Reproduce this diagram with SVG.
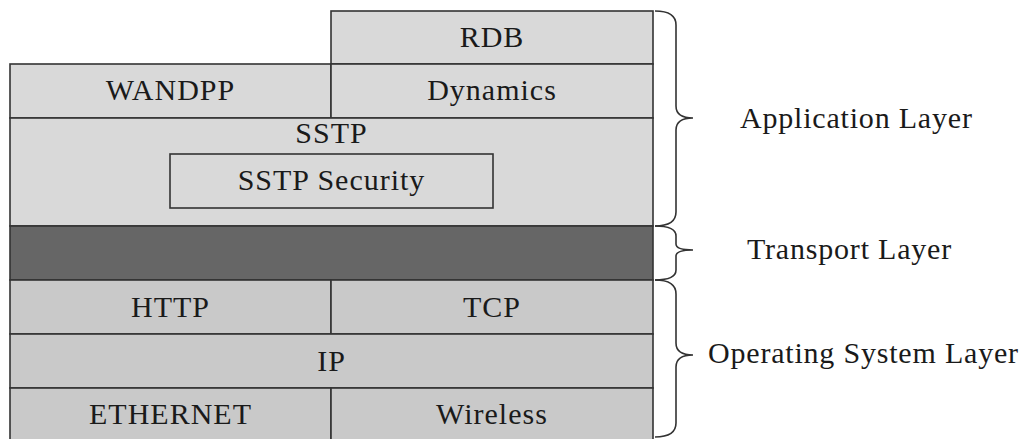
<svg xmlns="http://www.w3.org/2000/svg" width="1027" height="439" viewBox="0 0 1027 439">
<style>
.lt{fill:#d9d9d9;stroke:#333;stroke-width:1.6}
.md{fill:#c9c9c9;stroke:#333;stroke-width:1.6}
.dk{fill:#666;stroke:#333;stroke-width:1.6}
.t{font-family:"Liberation Serif","Times New Roman",serif;font-size:30px;fill:#1a1a1a;text-anchor:middle;letter-spacing:1px}
.l{font-family:"Liberation Serif","Times New Roman",serif;font-size:30px;fill:#1a1a1a;text-anchor:start;letter-spacing:0.8px}
.br{fill:none;stroke:#333;stroke-width:1.6}
</style>
<rect width="1027" height="439" fill="#fff"/>
<g id="rdb"><rect class="lt" x="331" y="11" width="322" height="53"/><text class="t" x="492" y="47">RDB</text></g>
<g id="wandpp"><rect class="lt" x="10" y="64" width="321" height="54"/><text class="t" x="170.5" y="100">WANDPP</text></g>
<g id="dynamics"><rect class="lt" x="331" y="64" width="322" height="54"/><text class="t" x="492" y="100">Dynamics</text></g>
<g id="sstp"><rect class="lt" x="10" y="118" width="643" height="108"/><text class="t" x="331.5" y="143">SSTP</text></g>
<g id="sstp-security"><rect class="lt" x="170" y="154" width="323" height="54"/><text class="t" x="331.5" y="190">SSTP Security</text></g>
<g id="transport"><rect class="dk" x="10" y="226" width="643" height="54"/></g>
<g id="http"><rect class="md" x="10" y="280" width="321" height="54"/><text class="t" x="170.5" y="317">HTTP</text></g>
<g id="tcp"><rect class="md" x="331" y="280" width="322" height="54"/><text class="t" x="492" y="317">TCP</text></g>
<g id="ip"><rect class="md" x="10" y="334" width="643" height="54"/><text class="t" x="331.5" y="371">IP</text></g>
<g id="ethernet"><rect class="md" x="10" y="388" width="321" height="56"/><text class="t" x="170.5" y="424">ETHERNET</text></g>
<g id="wireless"><rect class="md" x="331" y="388" width="322" height="56"/><text class="t" x="492" y="424">Wireless</text></g>
<g id="connectors">
<path class="br" d="M655,11 Q676,11 676,25 L676,106 Q676,118 693,118 Q676,118 676,130 L676,212 Q676,226 655,226"/>
<path class="br" d="M655,226 Q676,226 676,236 L676,244 Q676,250 693,250 Q676,250 676,256 L676,270 Q676,280 655,280"/>
<path class="br" d="M655,280 Q676,280 676,294 L676,343 Q676,355 693,355 Q676,355 676,367 L676,423 Q676,437 655,437"/>
</g>
<g id="labels">
<text class="l" x="740" y="128">Application Layer</text>
<text class="l" x="747" y="259">Transport Layer</text>
<text class="l" x="708" y="363">Operating System Layer</text>
</g>
</svg>
